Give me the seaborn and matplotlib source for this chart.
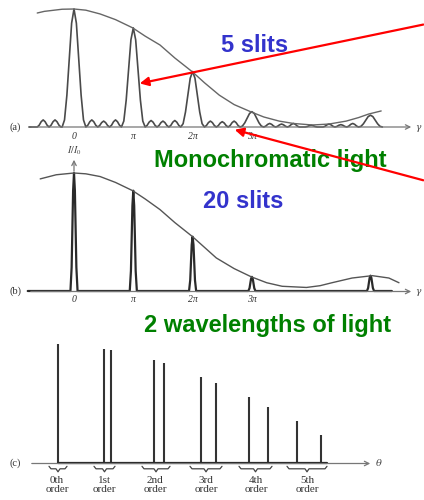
import numpy as np
import pandas as pd
import seaborn as sns
import matplotlib.pyplot as plt

# ---------------- data ----------------
# Panel (a): 5 slits, x in units of pi, intensity relative to I0
a_peak_pos = [0, 1, 2, 3, 5]
a_peak_h = [1.0, 0.84, 0.47, 0.13, 0.10]
a_bump_pos = [-0.52, -0.32, 0.3, 0.5, 0.7, 1.3, 1.5, 1.7, 2.3, 2.5, 2.7,
              3.3, 3.5, 3.7, 4.0, 4.3, 4.5, 4.7]
a_bump_h = [0.06, 0.06, 0.06, 0.05, 0.06, 0.055, 0.05, 0.055, 0.05, 0.045, 0.05,
            0.03, 0.025, 0.03, 0.015, 0.025, 0.02, 0.03]
a_range = [-0.76, 5.2]
a_env_x = [-0.62, -0.5, -0.2, 0, 0.2, 0.44, 0.7, 0.99, 1.2, 1.45, 1.7, 2.0, 2.2,
           2.45, 2.7, 2.99, 3.2, 3.46, 3.7, 4.02, 4.3, 4.59, 4.8, 4.97, 5.18]
a_env_y = [0.966, 0.98, 0.998, 1.0, 0.99, 0.958, 0.91, 0.84, 0.77, 0.695, 0.585,
           0.466, 0.375, 0.27, 0.19, 0.127, 0.085, 0.05, 0.03, 0.017, 0.025, 0.05,
           0.08, 0.11, 0.136]

# shape of a principal maximum and of a secondary maximum (read from the 0 peak)
peak_dx = [-0.2, -0.16, -0.12, -0.08, -0.04, 0, 0.04, 0.08, 0.12, 0.16, 0.2]
peak_f = [0, 0.06, 0.27, 0.58, 0.88, 1, 0.88, 0.58, 0.27, 0.06, 0]
bump_dx = [-0.1, -0.067, -0.033, 0, 0.033, 0.067, 0.1]
bump_f = [0, 0.25, 0.75, 1, 0.75, 0.25, 0]

# Panel (b): 20 slits
b_peak_pos = [0, 1, 2, 3, 5]
b_peak_h = [1.0, 0.85, 0.46, 0.12, 0.13]
spike_dx = [-0.06, -0.04, -0.015, 0, 0.015, 0.04, 0.06]
spike_f = [0, 0.2, 0.85, 1, 0.85, 0.2, 0]
b_range = [-0.78, 5.36]
b_env_x = [-0.57, -0.3, 0, 0.2, 0.44, 0.7, 0.99, 1.2, 1.45, 1.7, 2.0, 2.2, 2.4,
           2.7, 2.99, 3.25, 3.51, 3.92, 4.15, 4.35, 4.69, 5.03, 5.31, 5.48]
b_env_y = [0.95, 0.985, 1.0, 0.993, 0.97, 0.92, 0.85, 0.78, 0.69, 0.58, 0.46, 0.37,
           0.28, 0.19, 0.12, 0.07, 0.04, 0.03, 0.045, 0.07, 0.11, 0.13, 0.11, 0.07]
tick_pos = [0, 1, 2, 3]
tick_labels = ["0", "π", "2π", "3π"]

# Panel (c): two wavelengths, line positions (theta, arbitrary units) and heights
c_pos = [58, 104, 111, 154, 164, 201, 216, 249, 268, 297, 321]
c_h = [119, 114, 113, 103, 100, 86, 80, 66, 56, 42, 28]
order_labels = ["0th\norder", "1st\norder", "2nd\norder", "3rd\norder", "4th\norder", "5th\norder"]
order_centers = [57, 104, 155, 206, 256, 307]
brace_left = [49, 94, 142, 190, 239, 287]
brace_right = [67, 115, 170, 222, 272, 327]


def build_curve(rng, feats):
    xs, ys = [rng[0]], [0.0]
    pts = []
    for pos, h, dx, f in feats:
        for d, ff in zip(dx, f):
            pts.append((pos + d, h * ff))
    pts.sort(key=lambda p: p[0])
    for p in pts:
        xs.append(p[0]); ys.append(p[1])
    xs.append(rng[1]); ys.append(0.0)
    return pd.DataFrame({"x": xs, "y": ys})


# ---------------- figure ----------------
sns.set_style("white")
plt.rcParams["font.family"] = ["Liberation Sans", "DejaVu Sans"]
plt.rcParams["mathtext.fontset"] = "stix"

W, H = 424, 500
fig = plt.figure(figsize=(W / 100, H / 100), dpi=100)
fig.patch.set_facecolor("white")

PX = 59.3   # pixels per pi
X0 = 74     # pixel of x = 0
UNIT = 118  # pixels per I/I0


def panel(top, bottom, base):
    ax = fig.add_axes([0, 1 - bottom / H, 1, (bottom - top) / H])
    ax.set_xlim(-X0 / PX, (W - X0) / PX)
    ax.set_ylim(-(bottom - base) / UNIT, (base - top) / UNIT)
    ax.set_facecolor("none")
    for s in ax.spines.values():
        s.set_visible(False)
    ax.set_yticks([])
    ax.set_xticks(tick_pos)
    ax.set_xticklabels(tick_labels, fontfamily="Liberation Serif", fontstyle="italic",
                       fontsize=7, color="#333333")
    ax.tick_params(axis="x", length=0, pad=1)
    return ax


# panel (a)
ax_a = panel(0, 131, 127)
feats = [(p, h, peak_dx, peak_f) for p, h in zip(a_peak_pos, a_peak_h)]
feats += [(p, h, bump_dx, bump_f) for p, h in zip(a_bump_pos, a_bump_h)]
df_a = build_curve(a_range, feats)
sns.lineplot(data=df_a, x="x", y="y", sort=False, estimator=None, ax=ax_a,
             color="#4a4a4a", lw=1.2)
sns.lineplot(x=a_env_x, y=a_env_y, sort=False, estimator=None, ax=ax_a,
             color="#666666", lw=1.0)
ax_a.set_xlabel(""); ax_a.set_ylabel("")

# panel (b)
ax_b = panel(150, 294, 291)
feats_b = [(p, h, spike_dx, spike_f) for p, h in zip(b_peak_pos, b_peak_h)]
df_b = build_curve(b_range, feats_b)
sns.lineplot(data=df_b, x="x", y="y", sort=False, estimator=None, ax=ax_b,
             color="#2a2a2a", lw=1.6)
sns.lineplot(x=b_env_x, y=b_env_y, sort=False, estimator=None, ax=ax_b,
             color="#555555", lw=1.0)
ax_b.set_xlabel(""); ax_b.set_ylabel("")

# panel (c)
ctop, cbot, cbase = 330, 472, 463.3
ax_c = fig.add_axes([0, 1 - cbot / H, 1, (cbot - ctop) / H])
ax_c.set_xlim(0, W)
ax_c.set_ylim(-(cbot - cbase), cbase - ctop)
ax_c.set_facecolor("none")
for s in ax_c.spines.values():
    s.set_visible(False)
ax_c.set_yticks([])
ax_c.vlines(c_pos, 0, c_h, color="#333333", lw=1.5)
sns.lineplot(x=[c_pos[0], c_pos[-1] + 6], y=[0, 0], ax=ax_c, color="#222222", lw=1.6)
for l, r in zip(brace_left, brace_right):
    m = (l + r) / 2
    bx = [l, l + 2, m - 2, m, m + 2, r - 2, r]
    by = [-3, -5.5, -5.5, -8.5, -5.5, -5.5, -3]
    ax_c.plot(bx, by, color="#444444", lw=0.9, clip_on=False)
ax_c.set_xticks(order_centers)
ax_c.set_xticklabels(order_labels, fontfamily="Liberation Serif", fontsize=8,
                     color="#333333", linespacing=0.95)
ax_c.tick_params(axis="x", length=0, pad=3)

# overlay in pixel coordinates for annotations
ov = fig.add_axes([0, 0, 1, 1], zorder=10)
ov.set_xlim(0, W)
ov.set_ylim(H, 0)
ov.axis("off")
ov.patch.set_alpha(0)

ax_style = dict(arrowstyle="->", color="#777777", lw=0.9, mutation_scale=8)
ov.annotate("", xy=(414, 127), xytext=(29, 127), arrowprops=ax_style)
ov.annotate("", xy=(414, 291.5), xytext=(28, 291.5), arrowprops=ax_style)
ov.annotate("", xy=(373, 463.5), xytext=(29, 463.5), arrowprops=ax_style)
ov.annotate("", xy=(74, 157), xytext=(74, 174), arrowprops=ax_style)
for y in (127, 291):
    ov.text(415.5, y, "γ", fontsize=6.5, fontstyle="italic", family="DejaVu Serif",
            color="#444444", va="center", ha="left")
ov.text(376, 463, "θ", fontsize=7, fontstyle="italic", family="DejaVu Serif",
        color="#444444", va="center", ha="left")
for lab, y in (("(a)", 127), ("(b)", 291), ("(c)", 463)):
    ov.text(15, y, lab, fontsize=7.5, family="Liberation Serif", color="#333333",
            ha="center", va="center")
ov.text(74, 151, r"$I/I_0$", fontsize=7, color="#444444", ha="center", va="center")

tb = dict(fontsize=17, fontweight="bold", family="Liberation Sans", ha="center", va="baseline")
ov.text(255, 52, "5 slits", color="#3333CC", **tb)
ov.text(270, 167, "Monochromatic light", color="#008000", **tb)
ov.text(243, 208, "20 slits", color="#3333CC", **tb)
ov.text(268, 332, "2 wavelengths of light", color="#008000", **tb)

red = dict(arrowstyle="-|>", color="#FF0000", lw=1.6, mutation_scale=13)
ov.annotate("", xy=(137, 84), xytext=(426, 24), arrowprops=red)
ov.annotate("", xy=(232, 129), xytext=(426, 181), arrowprops=red)

fig.savefig("out.png", dpi=100, facecolor="white")
